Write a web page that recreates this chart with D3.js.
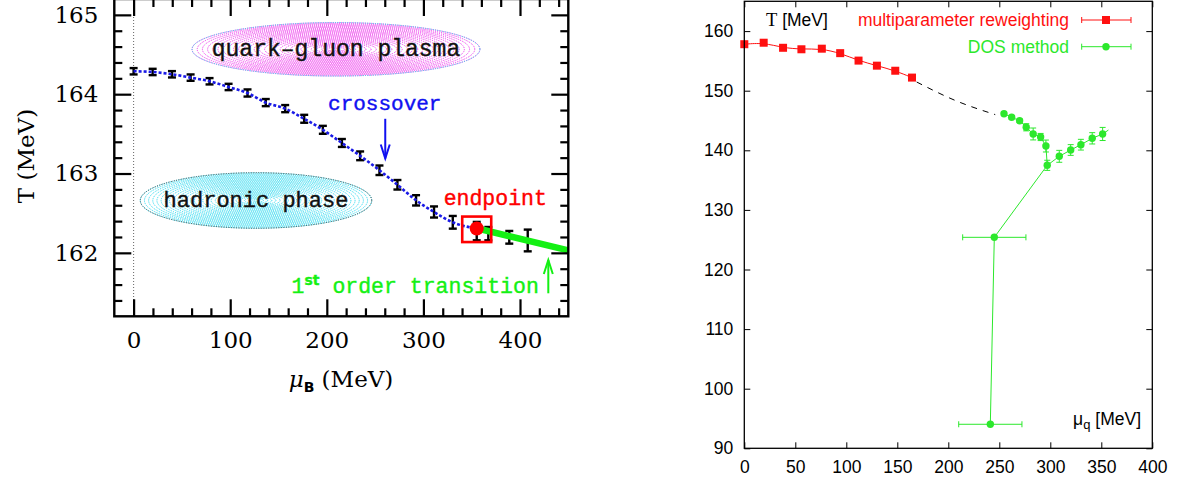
<!DOCTYPE html>
<html>
<head>
<meta charset="utf-8">
<script src="https://cdn.jsdelivr.net/npm/d3@7"></script>
<style>
  body { margin: 0; background: #fff; }
  svg { display: block; }
</style>
</head>
<body>
<div id="chart"></div>
<script>
// ---- left panel: T vs mu_B ----
var muB   = [0, 19.7, 39.7, 59, 78.6, 98.3, 117.9, 136.8, 156.9, 176.6, 195.9, 215.6, 234.5, 254.5, 273.1, 292.4, 311, 330.4];
var tB    = [164.289, 164.280, 164.251, 164.209, 164.163, 164.091, 164.015, 163.894, 163.818, 163.690,
             163.551, 163.385, 163.223, 163.041, 162.858, 162.662, 162.515, 162.385];
var tBerr = [0.04, 0.04, 0.04, 0.04, 0.04, 0.04, 0.045, 0.045, 0.045, 0.05, 0.05, 0.05, 0.055, 0.06, 0.06, 0.065, 0.07, 0.08];

var endMu = [355.2], endT = [162.306];          // critical endpoint
var firstMu  = [355.2, 367.2, 388.9, 408];        // points past the endpoint
var firstT   = [162.274, 162.242, 162.196, 162.156];
var firstErr = [0.116, 0.084, 0.08, 0.137];
var firstLineMu = [355.2, 450], firstLineT = [162.31, 162.03];

var regionName = ["quark\u2013gluon plasma", "hadronic phase"];
var regionMu   = [209.5, 126.7];
var regionT    = [164.566, 162.66];
var regionHalfMu = [149, 119.8];
var regionHalfT  = [0.337, 0.35];

var xMajorL = [0, 100, 200, 300, 400];
var yMajorL = [162, 163, 164, 165];

// ---- right panel: T vs mu_q ----
var muRed = [0, 19, 38, 56, 76, 94, 112, 130, 148, 164.4];
var tRed  = [157.8, 158.05, 157.2, 156.95, 157.05, 156.3, 155.05, 154.2, 153.35, 152.2];
var dashMu = [169, 207, 246];
var dashT  = [151.46, 148.35, 145.99];

var muDosUp = [254.6, 262.1, 269.9, 276.4, 283.2, 290.5, 295.7];
var tDosUp  = [146.14, 145.54, 144.97, 143.86, 142.74, 142.23, 140.72];
var eDosUp  = [0.3, 0.3, 0.3, 0.6, 1.0, 0.6, 1.0];
var muDosR = [297.0, 308.8, 320, 330, 341.1, 351.3];
var tDosR  = [137.48, 138.99, 140.05, 140.94, 142.01, 142.74];
var eDosR  = [0.85, 1.0, 0.9, 0.9, 0.95, 1.1];
var muDosLow = [245.1, 241.2];
var tDosLow  = [125.4, 94.03];
var xeDosLow = [31, 31];
var dosBranchEndMu = 357, dosBranchEndT = 143.4;

var xTicksR = [0, 50, 100, 150, 200, 250, 300, 350, 400];
var yTicksR = [90, 100, 110, 120, 130, 140, 150, 160];

var svg = d3.select("#chart").append("svg")
    .attr("width", 1183)
    .attr("height", 481);

// ================= LEFT PANEL =================
var xL = d3.scaleLinear().domain([-20, 450]).range([114.3, 568.3]);
var yL = d3.scaleLinear().domain([161.2, 165.2]).range([316.3, -1.0]);
var left = svg.append("g");
var serifL = "'DejaVu Serif', serif";
var monoL = "'Liberation Mono', 'Courier New', monospace";

// dotted phase regions
function hatchEllipse(i, color, edge) {
    var cx = xL(regionMu[i]), cy = yL(regionT[i]);
    var rx = xL(regionMu[i] + regionHalfMu[i]) - cx;
    var ry = cy - yL(regionT[i] + regionHalfT[i]);
    var g = left.append("g");
    for (var k = 1; k > 0.02; k -= 0.036) {
        g.append("ellipse")
            .attr("cx", cx).attr("cy", cy)
            .attr("rx", rx * k).attr("ry", ry * k)
            .attr("fill", "none")
            .attr("stroke", color)
            .attr("stroke-width", 1)
            .attr("stroke-dasharray", "1,1");
    }
    g.append("ellipse")
        .attr("cx", cx).attr("cy", cy)
        .attr("rx", rx).attr("ry", ry)
        .attr("fill", "none")
        .attr("stroke", edge)
        .attr("stroke-width", 1)
        .attr("stroke-dasharray", "1,1.5");
    g.append("text")
        .attr("x", cx).attr("y", cy)
        .attr("dy", "0.3em")
        .attr("text-anchor", "middle")
        .style("font-family", monoL)
        .style("font-size", i == 0 ? "23px" : "22px")
        .style("fill", "#111")
        .style("stroke", "#111").style("stroke-width", 0.4)
        .text(regionName[i]);
}
hatchEllipse(0, "#ee30ee", "#30d8f0");
hatchEllipse(1, "#20d8f0", "#444");

// dotted line at mu = 0
left.append("line")
    .attr("x1", xL(0)).attr("x2", xL(0))
    .attr("y1", yL(165.2)).attr("y2", yL(161.2))
    .attr("stroke", "#666")
    .attr("stroke-width", 1)
    .attr("stroke-dasharray", "1,2");

// error bars (crossover points and beyond)
function errBarsL(xs, ys, es) {
    var g = left.append("g").attr("stroke", "#000").attr("stroke-width", 2.4);
    xs.forEach(function (m, i) {
        var x = xL(m), y0 = yL(ys[i] - es[i]), y1 = yL(ys[i] + es[i]);
        g.append("line").attr("x1", x).attr("x2", x).attr("y1", y0).attr("y2", y1);
        g.append("line").attr("x1", x - 4).attr("x2", x + 4).attr("y1", y0).attr("y2", y0);
        g.append("line").attr("x1", x - 4).attr("x2", x + 4).attr("y1", y1).attr("y2", y1);
    });
}
errBarsL(muB, tB, tBerr);
errBarsL(firstMu, firstT, firstErr);

// blue crossover line
var crossLine = d3.line()
    .x(function (d) { return xL(d[0]); })
    .y(function (d) { return yL(d[1]); })
    .curve(d3.curveMonotoneX);
left.append("path")
    .datum(d3.zip(muB.concat(endMu), tB.concat(endT)))
    .attr("d", crossLine)
    .attr("fill", "none")
    .attr("stroke", "#1a1ae6")
    .attr("stroke-width", 2.6)
    .attr("stroke-dasharray", "3,2");

// thick green first order line
left.append("path")
    .datum(d3.zip(firstLineMu, firstLineT))
    .attr("d", d3.line().x(function (d) { return xL(d[0]); }).y(function (d) { return yL(d[1]); }))
    .attr("stroke", "#14f014")
    .attr("stroke-width", 6.5)
    .attr("fill", "none");

// endpoint marker
left.selectAll("rect.ep").data(endMu).enter().append("rect")
    .attr("x", function (d) { return xL(d) - 14.5; })
    .attr("y", function (d, i) { return yL(endT[i]) - 12; })
    .attr("width", 29).attr("height", 25.5)
    .attr("fill", "none")
    .attr("stroke", "#f00")
    .attr("stroke-width", 2.6);
left.selectAll("circle.ep").data(endMu).enter().append("circle")
    .attr("cx", function (d) { return xL(d); })
    .attr("cy", function (d, i) { return yL(endT[i]); })
    .attr("r", 7)
    .attr("fill", "#f00");

// annotations
function arrowL(mu, tFrom, tTo, color) {
    var x = xL(mu), y0 = yL(tFrom), y1 = yL(tTo), s = y1 > y0 ? -1 : 1;
    var g = left.append("g").attr("stroke", color).attr("stroke-width", 2).attr("fill", "none");
    g.append("line").attr("x1", x).attr("x2", x).attr("y1", y0).attr("y2", y1);
    g.append("path").attr("d", "M" + (x - 4.5) + "," + (y1 + s * 14) + "L" + x + "," + y1 + "L" + (x + 4.5) + "," + (y1 + s * 14));
}
left.append("text")
    .attr("x", xL(260)).attr("y", yL(163.80))
    .attr("text-anchor", "middle")
    .style("font-family", monoL).style("font-size", "21px")
    .style("fill", "#1010f0").style("stroke", "#1010f0").style("stroke-width", 0.4)
    .text("crossover");
arrowL(260.5, 163.69, 163.19, "#1010f0");

left.append("text")
    .attr("x", xL(374.4)).attr("y", yL(162.60))
    .attr("text-anchor", "middle")
    .style("font-family", monoL).style("font-size", "21.5px")
    .style("fill", "#f00").style("stroke", "#f00").style("stroke-width", 0.4)
    .text("endpoint");

var fo = left.append("text")
    .attr("x", xL(419.5)).attr("y", yL(161.49))
    .attr("text-anchor", "end")
    .style("font-family", monoL).style("font-size", "21.5px")
    .style("fill", "#14f014").style("stroke", "#14f014").style("stroke-width", 0.4);
fo.append("tspan").text("1");
fo.append("tspan").attr("dy", -8).style("font-size", "14px").style("font-family", "'DejaVu Sans', sans-serif").style("font-weight", "bold").text("st");
fo.append("tspan").attr("dy", 8).text(" order transition");
arrowL(429.3, 161.49, 161.91, "#14f014");

// axes (ticks inward on all sides)
function styleAxisL(g) {
    g.select(".domain").remove();
    g.selectAll("line").attr("stroke", "#000").attr("stroke-width", 2.2);
    g.selectAll("text").style("font-family", serifL).style("font-size", "23px").style("fill", "#000");
}
var yMinorL = d3.range(161.4, 165.2, 0.2).filter(function (v) { return Math.abs(v - Math.round(v)) > 0.01; });
var xMinorL = d3.range(20, 450, 20).filter(function (v) { return v % 100 != 0; });

left.append("g").attr("transform", "translate(" + xL(-20) + ",0)")
    .call(d3.axisLeft(yL).tickValues(yMajorL).tickSize(-17).tickPadding(16).tickFormat(d3.format("d"))).call(styleAxisL);
left.append("g").attr("transform", "translate(" + xL(-20) + ",0)")
    .call(d3.axisLeft(yL).tickValues(yMinorL).tickSize(-8).tickFormat("")).call(styleAxisL);
left.append("g").attr("transform", "translate(" + xL(450) + ",0)")
    .call(d3.axisRight(yL).tickValues(yMajorL).tickSize(-17).tickFormat("")).call(styleAxisL);
left.append("g").attr("transform", "translate(" + xL(450) + ",0)")
    .call(d3.axisRight(yL).tickValues(yMinorL).tickSize(-8).tickFormat("")).call(styleAxisL);
left.append("g").attr("transform", "translate(0," + yL(161.2) + ")")
    .call(d3.axisBottom(xL).tickValues(xMajorL).tickSize(-17).tickPadding(15).tickFormat(d3.format("d"))).call(styleAxisL);
left.append("g").attr("transform", "translate(0," + yL(161.2) + ")")
    .call(d3.axisBottom(xL).tickValues(xMinorL).tickSize(-8).tickFormat("")).call(styleAxisL);
left.append("g").attr("transform", "translate(0," + yL(165.2) + ")")
    .call(d3.axisTop(xL).tickValues(xMajorL).tickSize(-17).tickFormat("")).call(styleAxisL);
left.append("g").attr("transform", "translate(0," + yL(165.2) + ")")
    .call(d3.axisTop(xL).tickValues(xMinorL).tickSize(-8).tickFormat("")).call(styleAxisL);

left.append("rect")
    .attr("x", xL(-20)).attr("y", yL(165.2))
    .attr("width", xL(450) - xL(-20)).attr("height", yL(161.2) - yL(165.2))
    .attr("fill", "none").attr("stroke", "#000").attr("stroke-width", 2.4);

// axis titles
left.append("text")
    .attr("transform", "translate(34,156) rotate(-90)")
    .attr("text-anchor", "middle")
    .style("font-family", serifL).style("font-size", "23px")
    .text("T (MeV)");
var xt = left.append("text")
    .attr("x", 341).attr("y", 387)
    .attr("text-anchor", "middle")
    .style("font-family", serifL).style("font-size", "23px");
xt.append("tspan").style("font-style", "italic").text("\u03bc");
xt.append("tspan").attr("dy", 5).style("font-size", "14px").style("font-family", "'DejaVu Sans', sans-serif").style("font-weight", "bold").text("B");
xt.append("tspan").attr("dy", -5).text(" (MeV)");

// ================= RIGHT PANEL =================
var xR = d3.scaleLinear().domain([0, 400]).range([744.3, 1152.3]);
var yR = d3.scaleLinear().domain([90, 165]).range([448.3, 1.3]);
var right = svg.append("g");
var sansR = "'Liberation Sans', Arial, sans-serif";
var red = "#ff1010", green = "#2ce82c";

var lineR = d3.line()
    .x(function (d) { return xR(d[0]); })
    .y(function (d) { return yR(d[1]); });

// red reweighting curve
right.append("path")
    .datum(d3.zip(muRed, tRed))
    .attr("d", lineR.curve(d3.curveBasis))
    .attr("fill", "none").attr("stroke", red).attr("stroke-width", 1);

// dashed extrapolation
right.append("path")
    .datum(d3.zip(dashMu, dashT))
    .attr("d", lineR.curve(d3.curveMonotoneX))
    .attr("fill", "none").attr("stroke", "#000").attr("stroke-width", 1)
    .attr("stroke-dasharray", "6,6");

// green DOS lines
lineR.curve(d3.curveLinear);
var upPts = d3.zip(muDosUp, tDosUp).concat([[muDosR[0], tDosR[0]]]);
right.append("path").datum(upPts).attr("d", lineR)
    .attr("fill", "none").attr("stroke", green).attr("stroke-width", 1);
var rPts = d3.zip(muDosR, tDosR).concat([[dosBranchEndMu, dosBranchEndT]]);
right.append("path").datum(rPts).attr("d", lineR)
    .attr("fill", "none").attr("stroke", green).attr("stroke-width", 1);
var lowPts = [[muDosR[0], tDosR[0]]].concat(d3.zip(muDosLow, tDosLow));
right.append("path").datum(lowPts).attr("d", lineR)
    .attr("fill", "none").attr("stroke", green).attr("stroke-width", 1);

// error bars
function vErr(xs, ys, es, color) {
    var g = right.append("g").attr("stroke", color).attr("stroke-width", 1);
    xs.forEach(function (m, i) {
        var x = xR(m), y0 = yR(ys[i] - es[i]), y1 = yR(ys[i] + es[i]);
        g.append("line").attr("x1", x).attr("x2", x).attr("y1", y0).attr("y2", y1);
        g.append("line").attr("x1", x - 3).attr("x2", x + 3).attr("y1", y0).attr("y2", y0);
        g.append("line").attr("x1", x - 3).attr("x2", x + 3).attr("y1", y1).attr("y2", y1);
    });
}
vErr(muDosUp, tDosUp, eDosUp, green);
vErr(muDosR, tDosR, eDosR, green);
var hg = right.append("g").attr("stroke", green).attr("stroke-width", 1);
muDosLow.forEach(function (m, i) {
    var y = yR(tDosLow[i]), x0 = xR(m - xeDosLow[i]), x1 = xR(m + xeDosLow[i]);
    hg.append("line").attr("x1", x0).attr("x2", x1).attr("y1", y).attr("y2", y);
    hg.append("line").attr("x1", x0).attr("x2", x0).attr("y1", y - 3).attr("y2", y + 3);
    hg.append("line").attr("x1", x1).attr("x2", x1).attr("y1", y - 3).attr("y2", y + 3);
});

// markers
right.selectAll("rect.red").data(d3.zip(muRed, tRed)).enter().append("rect")
    .attr("x", function (d) { return xR(d[0]) - 4; })
    .attr("y", function (d) { return yR(d[1]) - 4; })
    .attr("width", 8).attr("height", 8)
    .attr("fill", red);
var dosAll = d3.zip(muDosUp.concat(muDosR, muDosLow), tDosUp.concat(tDosR, tDosLow));
right.selectAll("circle.dos").data(dosAll).enter().append("circle")
    .attr("cx", function (d) { return xR(d[0]); })
    .attr("cy", function (d) { return yR(d[1]); })
    .attr("r", 3.7)
    .attr("fill", green);

// axes
function styleAxisR(g) {
    g.select(".domain").remove();
    g.selectAll("line").attr("stroke", "#000").attr("stroke-width", 1);
    g.selectAll("text").style("font-family", sansR).style("font-size", "17.5px").style("fill", "#000");
}
right.append("g").attr("transform", "translate(" + xR(0) + ",0)")
    .call(d3.axisLeft(yR).tickValues(yTicksR).tickSize(-6).tickPadding(11).tickFormat(d3.format("d"))).call(styleAxisR);
right.append("g").attr("transform", "translate(" + xR(400) + ",0)")
    .call(d3.axisRight(yR).tickValues(yTicksR).tickSize(-6).tickFormat("")).call(styleAxisR);
right.append("g").attr("transform", "translate(0," + yR(90) + ")")
    .call(d3.axisBottom(xR).tickValues(xTicksR).tickSize(-6).tickPadding(12).tickFormat(d3.format("d"))).call(styleAxisR);
right.append("g").attr("transform", "translate(0," + yR(165) + ")")
    .call(d3.axisTop(xR).tickValues(xTicksR).tickSize(-6).tickFormat("")).call(styleAxisR);
right.append("rect")
    .attr("x", xR(0)).attr("y", yR(165))
    .attr("width", xR(400) - xR(0)).attr("height", yR(90) - yR(165))
    .attr("fill", "none").attr("stroke", "#000").attr("stroke-width", 1.3);

// labels and legend
var tl = right.append("text").attr("x", 766).attr("y", 26)
    .style("font-family", sansR).style("font-size", "17.5px");
tl.append("tspan").style("font-family", "'Liberation Serif', serif").style("font-size", "18.5px").text("T");
tl.append("tspan").text(" [MeV]");

var xl = right.append("text").attr("x", 1141).attr("y", 425)
    .attr("text-anchor", "end")
    .style("font-family", sansR).style("font-size", "17.5px");
xl.append("tspan").text("\u03bc");
xl.append("tspan").attr("dy", 4).style("font-size", "13px").text("q");
xl.append("tspan").attr("dy", -4).text(" [MeV]");

var legendNames = ["multiparameter reweighting", "DOS method"];
var legendColors = [red, green];
legendNames.forEach(function (name, i) {
    var y = 20 + i * 26.7;
    right.append("text").attr("x", 1069).attr("y", y + 6)
        .attr("text-anchor", "end")
        .style("font-family", sansR).style("font-size", "17.5px")
        .style("fill", legendColors[i])
        .text(name);
    var g = right.append("g").attr("stroke", legendColors[i]).attr("stroke-width", 1);
    g.append("line").attr("x1", 1081.7).attr("x2", 1131).attr("y1", y).attr("y2", y);
    g.append("line").attr("x1", 1081.7).attr("x2", 1081.7).attr("y1", y - 3).attr("y2", y + 3);
    g.append("line").attr("x1", 1131).attr("x2", 1131).attr("y1", y - 3).attr("y2", y + 3);
    if (i == 0) {
        right.append("rect").attr("x", 1102).attr("y", y - 4).attr("width", 8).attr("height", 8).attr("fill", red);
    } else {
        right.append("circle").attr("cx", 1106).attr("cy", y).attr("r", 3.7).attr("fill", green);
    }
});
</script>
</body>
</html>
